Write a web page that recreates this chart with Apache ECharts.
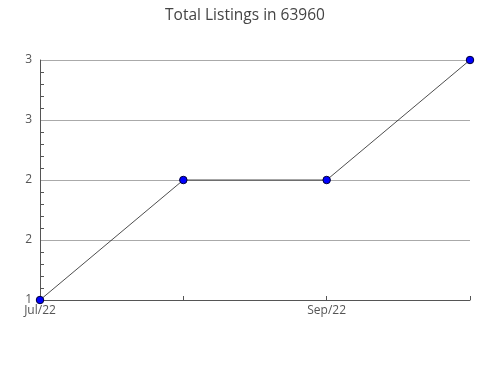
<!DOCTYPE html>
<html><head><meta charset="utf-8">
<script src="https://cdn.jsdelivr.net/npm/echarts@6/dist/echarts.min.js"></script>
<style>html,body{margin:0;padding:0;background:#fff}#c{width:490px;height:380px}</style>
</head><body><div id="c"></div>
<script>
var categories = ['Jul/22', 'Aug/22', 'Sep/22', 'Oct/22'];
var listings = [1, 2, 2, 3];
var titleText = 'Total Listings in 63960';

var chart = echarts.init(document.getElementById('c'));
chart.setOption({
  animation: false,
  title: {
    text: titleText, left: 'center', top: 3,
    textStyle: {fontFamily: 'Open Sans', fontSize: 15.5, fontWeight: 'normal', color: '#444'}
  },
  grid: {left: 40, right: 20, top: 60, bottom: 80},
  xAxis: {
    type: 'category', data: categories, boundaryGap: false,
    axisLine: {lineStyle: {color: '#555', width: 1}},
    axisTick: {show: true, inside: true, length: 4, interval: 0, lineStyle: {color: '#555'}},
    axisLabel: {interval: 1, fontFamily: 'Open Sans', fontSize: 12, color: '#555', margin: 5},
    splitLine: {show: false}
  },
  yAxis: {
    type: 'value', min: 1, max: 3, interval: 0.5,
    axisLine: {show: true, lineStyle: {color: '#555', width: 1}},
    axisTick: {show: false, inside: true},
    minorTick: {show: true, splitNumber: 5, length: 4, lineStyle: {color: '#555'}},
    axisLabel: {fontFamily: 'Open Sans', fontSize: 12, color: '#555', margin: 8,
      formatter: function (v) { return String(Math.round(v)); }},
    splitLine: {show: true, lineStyle: {color: '#aaa', width: 1}}
  },
  series: [{
    type: 'line', data: listings,
    symbol: 'circle', symbolSize: 7.5,
    itemStyle: {color: '#0000ff', borderColor: '#000033', borderWidth: 1},
    lineStyle: {color: '#000', width: 0.7}
  }]
});
</script></body></html>
